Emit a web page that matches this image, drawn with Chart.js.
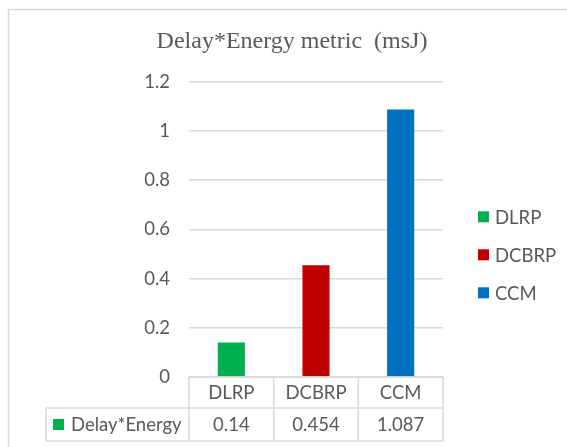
<!DOCTYPE html>
<html>
<head>
<meta charset="utf-8">
<title>Delay*Energy metric</title>
<script src="https://cdn.jsdelivr.net/npm/chart.js@4.4.0/dist/chart.umd.min.js"></script>
<style>
  html, body { margin: 0; padding: 0; background: #fff; }
</style>
</head>
<body>
<canvas id="chart" width="567" height="447"></canvas>
<script>
const categories = ["DLRP", "DCBRP", "CCM"];
const seriesName = "Delay*Energy";
const values = [0.14, 0.454, 1.087];
const valueLabels = ["0.14", "0.454", "1.087"];
const barColors = ["#00B050", "#C00000", "#0070C0"];
const yTickLabels = ["0", "0.2", "0.4", "0.6", "0.8", "1", "1.2"];

const gray = "#d9d9d9";
const textColor = "#595959";
const sansFont = "Lato";

// border, data table under the plot and legend on the right
const extras = {
  id: "extras",
  beforeDraw(chart) {
    const ctx = chart.ctx;
    ctx.save();
    ctx.strokeStyle = gray;
    ctx.lineWidth = 1.5;
    ctx.beginPath();
    ctx.moveTo(8.5, chart.height);
    ctx.lineTo(8.5, 9.5);
    ctx.lineTo(chart.width, 9.5);
    ctx.stroke();
    ctx.restore();
  },
  afterDraw(chart) {
    const { ctx, chartArea: area, scales: { x } } = chart;
    const half = (area.right - area.left) / categories.length / 2;
    const top = area.bottom;
    const mid = top + 31;
    const bot = top + 64;
    const labelLeft = 46;

    ctx.save();
    ctx.strokeStyle = gray;
    ctx.lineWidth = 1.5;
    ctx.beginPath();
    ctx.moveTo(area.left, top); ctx.lineTo(area.right, top);
    ctx.moveTo(labelLeft, mid); ctx.lineTo(area.right, mid);
    ctx.moveTo(labelLeft, bot); ctx.lineTo(area.right, bot);
    ctx.moveTo(labelLeft, mid); ctx.lineTo(labelLeft, bot);
    ctx.moveTo(area.left, top); ctx.lineTo(area.left, bot);
    categories.forEach((c, i) => {
      const r = x.getPixelForValue(i) + half;
      ctx.moveTo(r, top); ctx.lineTo(r, bot);
    });
    ctx.stroke();

    ctx.fillStyle = textColor;
    ctx.font = "18.5px " + sansFont;
    ctx.textAlign = "center";
    ctx.textBaseline = "middle";
    categories.forEach((c, i) => {
      const cx = x.getPixelForValue(i);
      ctx.fillText(c, cx, (top + mid) / 2 + 1);
      ctx.fillText(valueLabels[i], cx, (mid + bot) / 2 + 1);
    });

    ctx.fillStyle = barColors[0];
    ctx.fillRect(53, (mid + bot) / 2 - 5.5, 11, 11);
    ctx.fillStyle = textColor;
    ctx.textAlign = "left";
    ctx.fillText(seriesName, 71, (mid + bot) / 2 + 1);

    // legend
    const lx = area.right + 35;
    const ly = area.top + 135;
    categories.forEach((c, i) => {
      const cy = ly + i * 38;
      ctx.fillStyle = barColors[i];
      ctx.fillRect(lx, cy - 5.5, 11, 11);
      ctx.fillStyle = textColor;
      ctx.fillText(c, lx + 17, cy + 1);
    });
    ctx.restore();
  }
};

new Chart(document.getElementById("chart"), {
  type: "bar",
  data: {
    labels: categories,
    datasets: [
      {
        label: seriesName,
        data: values,
        backgroundColor: barColors,
        categoryPercentage: 1,
        barPercentage: 0.32,
      },
    ],
  },
  options: {
    responsive: false,
    animation: false,
    layout: {
      padding: { left: 141, right: 124, top: 0, bottom: 70 },
    },
    plugins: {
      legend: { display: false },
      tooltip: { enabled: false },
      title: {
        display: true,
        text: "Delay*Energy metric  (msJ)",
        color: textColor,
        font: { family: "Liberation Serif", size: 24, weight: "normal" },
        padding: { top: 27, bottom: 26 },
      },
    },
    scales: {
      x: {
        display: false,
      },
      y: {
        min: 0,
        max: 1.2,
        afterFit: (scale) => {
          scale.width = 48;
        },
        ticks: {
          stepSize: 0.2,
          padding: 19,
          color: textColor,
          font: { family: sansFont, size: 18.5 },
          callback: (v, i) => yTickLabels[i],
        },
        grid: {
          color: gray,
          lineWidth: 1.5,
          drawTicks: false,
        },
        border: { display: false },
      },
    },
  },
  plugins: [extras],
});
</script>
</body>
</html>
